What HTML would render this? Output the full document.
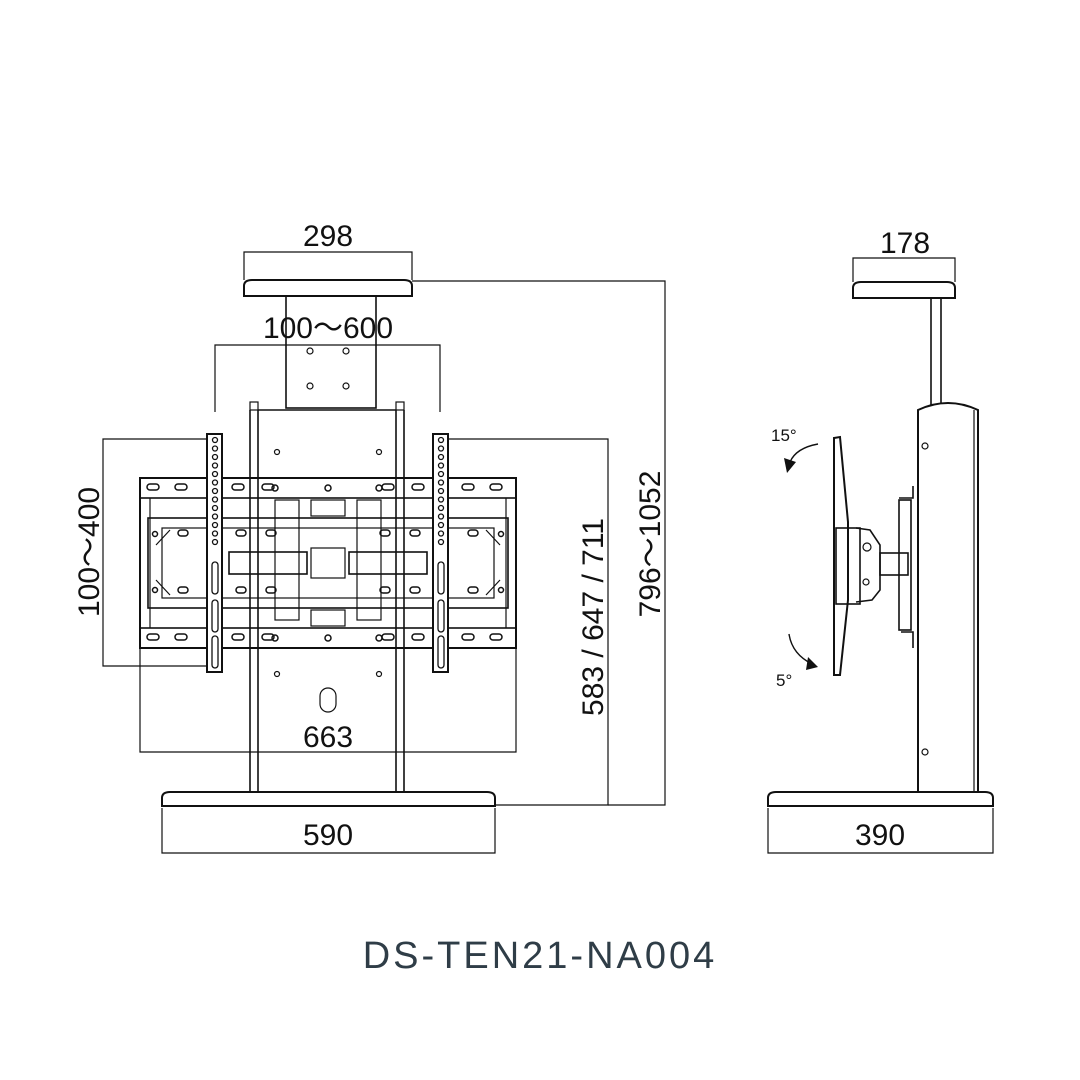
<!DOCTYPE html>
<html><head><meta charset="utf-8"><style>
html,body{margin:0;padding:0;background:#fff;}
svg{display:block;}
text{font-family:"Liberation Sans",sans-serif;fill:#111;}
</style></head><body>
<svg width="1080" height="1080" viewBox="0 0 1080 1080" xmlns="http://www.w3.org/2000/svg">
<g fill="none" stroke="#111" stroke-width="1.2">
<!-- FRONT VIEW dims -->
<polyline points="244,280 244,252 412,252 412,280"/>
<polyline points="215,412 215,345 440,345 440,412"/>
<polyline points="207,439 103,439 103,666 207,666"/>
<polyline points="140,648 140,752 516,752 516,648"/>
<polyline points="162,808 162,853 495,853 495,808"/>
<polyline points="448,439 608,439 608,805 495,805"/>
<polyline points="412,281 665,281 665,805 608,805"/>
<!-- shelf -->
<path d="M244,296 L244,286 Q244,280 252,280 L404,280 Q412,280 412,286 L412,296 Z" stroke-width="2"/>
<rect x="286" y="296" width="90" height="112" stroke-width="1.6"/>
<circle cx="310" cy="351" r="3"/><circle cx="346" cy="351" r="3"/><circle cx="310" cy="386" r="3"/><circle cx="346" cy="386" r="3"/>
<!-- column -->
<rect x="250" y="402" width="8" height="8"/><rect x="396" y="402" width="8" height="8"/>
<path d="M250,410 L250,792 M258,410 L258,792 M396,410 L396,792 M404,410 L404,792" stroke-width="1.6"/>
<line x1="258" y1="410" x2="396" y2="410" stroke-width="1.6"/>
<circle cx="277" cy="452" r="2.5"/><circle cx="379" cy="452" r="2.5"/>
<circle cx="277" cy="674" r="2.5"/><circle cx="379" cy="674" r="2.5"/>
<rect x="320" y="688" width="16" height="24" rx="8"/>
<!-- base -->
<path d="M162,806 L162,798 Q162,792 170,792 L487,792 Q495,792 495,798 L495,806 Z" stroke-width="2"/>
<!-- bracket rails -->
<rect x="140" y="478" width="376" height="170" stroke-width="2"/>
<rect x="140" y="478" width="376" height="20" stroke-width="1.6"/>
<rect x="140" y="628" width="376" height="20" stroke-width="1.6"/>
<line x1="150" y1="498" x2="150" y2="628"/><line x1="506" y1="498" x2="506" y2="628"/>
<rect x="148" y="518" width="360" height="90" stroke-width="1.6"/>
<rect x="162" y="528" width="332" height="70"/>
<path d="M156,545 L170,530 M156,580 L170,595 M500,545 L486,530 M500,580 L486,595"/>
<rect x="229" y="552" width="78" height="22" stroke-width="1.6"/>
<rect x="349" y="552" width="78" height="22" stroke-width="1.6"/>
<rect x="311" y="548" width="34" height="30"/>
<rect x="275" y="500" width="24" height="120"/><rect x="357" y="500" width="24" height="120"/>
<rect x="311" y="500" width="34" height="16"/><rect x="311" y="610" width="34" height="16"/>
<g stroke-width="1.5">
<rect x="147" y="484" width="12" height="6" rx="3"/><rect x="175" y="484" width="12" height="6" rx="3"/><rect x="232" y="484" width="12" height="6" rx="3"/><rect x="262" y="484" width="12" height="6" rx="3"/><rect x="382" y="484" width="12" height="6" rx="3"/><rect x="412" y="484" width="12" height="6" rx="3"/><rect x="462" y="484" width="12" height="6" rx="3"/><rect x="490" y="484" width="12" height="6" rx="3"/>
<rect x="147" y="634" width="12" height="6" rx="3"/><rect x="175" y="634" width="12" height="6" rx="3"/><rect x="232" y="634" width="12" height="6" rx="3"/><rect x="262" y="634" width="12" height="6" rx="3"/><rect x="382" y="634" width="12" height="6" rx="3"/><rect x="412" y="634" width="12" height="6" rx="3"/><rect x="462" y="634" width="12" height="6" rx="3"/><rect x="490" y="634" width="12" height="6" rx="3"/>
<rect x="178" y="530" width="10" height="6" rx="3"/><rect x="236" y="530" width="10" height="6" rx="3"/><rect x="266" y="530" width="10" height="6" rx="3"/><rect x="380" y="530" width="10" height="6" rx="3"/><rect x="410" y="530" width="10" height="6" rx="3"/><rect x="468" y="530" width="10" height="6" rx="3"/>
<rect x="178" y="587" width="10" height="6" rx="3"/><rect x="236" y="587" width="10" height="6" rx="3"/><rect x="266" y="587" width="10" height="6" rx="3"/><rect x="380" y="587" width="10" height="6" rx="3"/><rect x="410" y="587" width="10" height="6" rx="3"/><rect x="468" y="587" width="10" height="6" rx="3"/>
<circle cx="328" cy="488" r="3"/><circle cx="328" cy="638" r="3"/>
<circle cx="275" cy="488" r="3"/><circle cx="379" cy="488" r="3"/><circle cx="275" cy="638" r="3"/><circle cx="379" cy="638" r="3"/>
<circle cx="155" cy="534" r="2.5"/><circle cx="501" cy="534" r="2.5"/><circle cx="155" cy="590" r="2.5"/><circle cx="501" cy="590" r="2.5"/>
</g>
<!-- straps -->
<rect x="207" y="434" width="15" height="238" fill="#fff" stroke-width="2"/>
<rect x="433" y="434" width="15" height="238" fill="#fff" stroke-width="2"/>
<g stroke-width="1.3">
<circle cx="215" cy="440" r="2.5"/><circle cx="215" cy="448.5" r="2.5"/><circle cx="215" cy="457" r="2.5"/><circle cx="215" cy="465.5" r="2.5"/><circle cx="215" cy="474" r="2.5"/><circle cx="215" cy="482.5" r="2.5"/><circle cx="215" cy="491" r="2.5"/><circle cx="215" cy="499.5" r="2.5"/><circle cx="215" cy="508" r="2.5"/><circle cx="215" cy="516.5" r="2.5"/><circle cx="215" cy="525" r="2.5"/><circle cx="215" cy="533.5" r="2.5"/><circle cx="215" cy="542" r="2.5"/>
<circle cx="441" cy="440" r="2.5"/><circle cx="441" cy="448.5" r="2.5"/><circle cx="441" cy="457" r="2.5"/><circle cx="441" cy="465.5" r="2.5"/><circle cx="441" cy="474" r="2.5"/><circle cx="441" cy="482.5" r="2.5"/><circle cx="441" cy="491" r="2.5"/><circle cx="441" cy="499.5" r="2.5"/><circle cx="441" cy="508" r="2.5"/><circle cx="441" cy="516.5" r="2.5"/><circle cx="441" cy="525" r="2.5"/><circle cx="441" cy="533.5" r="2.5"/><circle cx="441" cy="542" r="2.5"/>
<rect x="212" y="562" width="6" height="32" rx="3"/><rect x="212" y="600" width="6" height="32" rx="3"/><rect x="212" y="636" width="6" height="32" rx="3"/>
<rect x="438" y="562" width="6" height="32" rx="3"/><rect x="438" y="600" width="6" height="32" rx="3"/><rect x="438" y="636" width="6" height="32" rx="3"/>
</g>

<!-- SIDE VIEW -->
<polyline points="853,282 853,258 955,258 955,282"/>
<polyline points="768,808 768,853 993,853 993,808"/>
<path d="M853,298 L853,288 Q853,282 861,282 L947,282 Q955,282 955,288 L955,298 Z" stroke-width="2"/>
<path d="M931,298 L931,405 M941,298 L941,404" stroke-width="1.6"/>
<path d="M918,792 L918,410 Q948,396 978,410 L978,792" stroke-width="2"/>
<line x1="974" y1="410" x2="974" y2="792" stroke-width="1.2"/>
<circle cx="925" cy="446" r="3"/><circle cx="925" cy="752" r="3"/>
<path d="M768,806 L768,798 Q768,792 776,792 L985,792 Q993,792 993,798 L993,806 Z" stroke-width="2"/>
<!-- tv panel -->
<path d="M834,438 L840,437 L848,522 L848,600 L840,675 L834,675 Z" stroke-width="2"/>
<rect x="836" y="528" width="24" height="76" stroke-width="1.6"/>
<path d="M856,528 L870,530 L880,545 L880,590 L872,600 L856,602" stroke-width="1.6"/>
<rect x="880" y="553" width="28" height="22" stroke-width="1.6"/>
<rect x="899" y="500" width="12" height="130" stroke-width="1.6"/>
<path d="M899,498 L913,498 L913,486 M901,632 L913,632 L913,648" stroke-width="1.6"/>
<circle cx="867" cy="547" r="4"/><circle cx="866" cy="582" r="3"/>
<!-- arrows -->
<path d="M818,444 Q796,448 790,462" stroke-width="1.4"/>
<path d="M789,634 Q792,654 812,664" stroke-width="1.4"/>
</g>
<polygon points="784,458 796,462 787,473" fill="#111"/>
<polygon points="808,657 818,667 806,670" fill="#111"/>

<g font-size="30">
<text x="328" y="246" text-anchor="middle">298</text>
<text x="328" y="338" text-anchor="middle">100～600</text>
<text x="328" y="747" text-anchor="middle">663</text>
<text x="328" y="845" text-anchor="middle">590</text>
<text x="905" y="253" text-anchor="middle">178</text>
<text x="880" y="845" text-anchor="middle">390</text>
<text transform="translate(99,552) rotate(-90)" text-anchor="middle">100～400</text>
<text transform="translate(603,617) rotate(-90)" text-anchor="middle">583 / 647 / 711</text>
<text transform="translate(660,544) rotate(-90)" text-anchor="middle">796～1052</text>
</g>
<text x="771" y="441" font-size="17">15°</text>
<text x="776" y="686" font-size="17">5°</text>
<text x="540" y="968" font-size="38" text-anchor="middle" letter-spacing="3" style="fill:#2f3d47">DS-TEN21-NA004</text>
</svg>
</body></html>
